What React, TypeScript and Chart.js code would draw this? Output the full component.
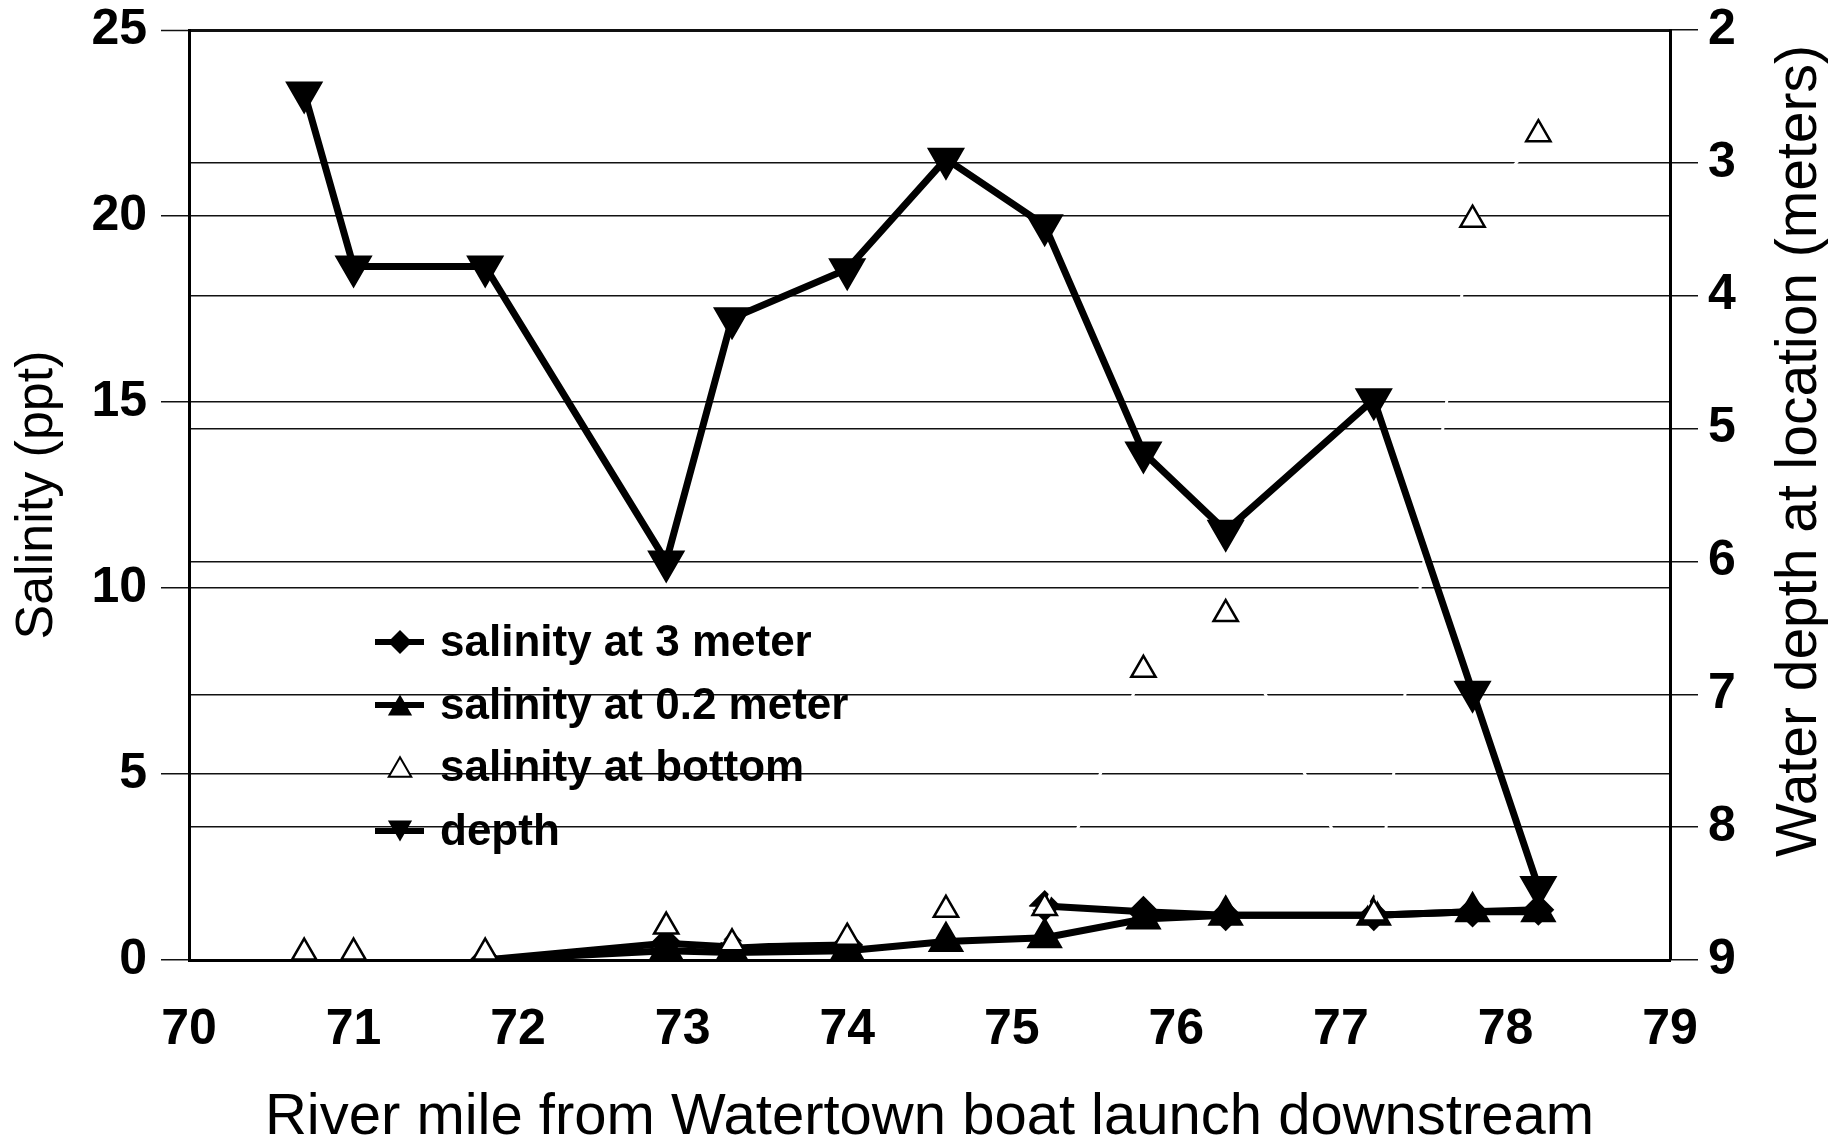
import React, { useEffect, useRef } from "react";
import { Chart, registerables } from "chart.js";

Chart.register(...registerables);

// ---- data ----
const riverMile = [70.7, 71.0, 71.8, 72.9, 73.3, 74.0, 74.6, 75.2, 75.8, 76.3, 77.2, 77.8, 78.2];
const salinity3m: (number | null)[] = [null, null, 0.0, 0.45, 0.35, 0.4, null, 1.45, 1.3, 1.2, 1.2, 1.3, 1.35];
const salinity02m: (number | null)[] = [null, null, 0.0, 0.25, 0.2, 0.25, 0.5, 0.6, 1.1, 1.2, 1.2, 1.3, 1.3];
const salinityBottom = [0.2, 0.2, 0.2, 0.9, 0.45, 0.6, 1.35, 1.4, 7.8, 9.3, 1.25, 19.9, 22.2];
const depth = [2.47, 3.78, 3.78, 6.0, 4.17, 3.8, 2.97, 3.47, 5.18, 5.77, 4.78, 6.98, 8.45];

const xTicks = [70, 71, 72, 73, 74, 75, 76, 77, 78, 79];
const salinityTicks = [0, 5, 10, 15, 20, 25];
const depthTicks = [2, 3, 4, 5, 6, 7, 8, 9];

const legendLabels = ["salinity at 3 meter", "salinity at 0.2 meter", "salinity at bottom", "depth"];
const xTitle = "River mile from Watertown boat launch downstream";
const yTitle = "Salinity (ppt)";
const y2Title = "Water depth at location (meters)";

const FONT = "'Liberation Sans', Arial, Helvetica, sans-serif";

function tri(ctx: any, x: number, y: number, r: number, down: boolean) {
  const s = down ? -1 : 1;
  const cy = y + s * r * 0.25;
  ctx.beginPath();
  ctx.moveTo(x, cy - s * r);
  ctx.lineTo(x + r * 0.866, cy + (s * r) / 2);
  ctx.lineTo(x - r * 0.866, cy + (s * r) / 2);
  ctx.closePath();
}

export default function App() {
  const ref = useRef<HTMLCanvasElement>(null);

  useEffect(() => {
    const canvas = ref.current as HTMLCanvasElement;
    const pts = (arr: (number | null)[]) => riverMile.map((x, i) => ({ x, y: arr[i] }));

    const annotations = {
      id: "annotations",
      afterDraw(chart: any) {
        const ctx = chart.ctx;
        ctx.save();
        // inline legend
        const ys = [634, 697, 759, 823];
        const lx0 = 367, lx1 = 416, mx = 392, tx = 432;
        ctx.font = `bold 44px ${FONT}`;
        ctx.textBaseline = "middle";
        ctx.textAlign = "left";
        ys.forEach((y, i) => {
          ctx.strokeStyle = "#000";
          ctx.fillStyle = "#000";
          if (i !== 2) {
            ctx.lineWidth = 6;
            ctx.beginPath();
            ctx.moveTo(lx0, y);
            ctx.lineTo(lx1, y);
            ctx.stroke();
          }
          if (i === 0) {
            const r = 12;
            ctx.beginPath();
            ctx.moveTo(mx, y - r);
            ctx.lineTo(mx + r, y);
            ctx.lineTo(mx, y + r);
            ctx.lineTo(mx - r, y);
            ctx.closePath();
            ctx.fill();
          } else if (i === 1) {
            tri(ctx, mx, y, 14, false);
            ctx.fill();
          } else if (i === 2) {
            tri(ctx, mx, y, 13, false);
            ctx.fillStyle = "#fff";
            ctx.fill();
            ctx.lineWidth = 2;
            ctx.stroke();
          } else {
            tri(ctx, mx, y, 14, true);
            ctx.fill();
          }
          ctx.fillStyle = "#000";
          ctx.fillText(legendLabels[i], tx, y + 2);
        });
        // right axis title, reading bottom-to-top
        ctx.font = `57px ${FONT}`;
        ctx.textAlign = "center";
        ctx.textBaseline = "middle";
        ctx.translate(1792, 443);
        ctx.rotate(-Math.PI / 2);
        ctx.fillText(y2Title, 0, 0);
        ctx.restore();
      },
    };

    const tickFont = { family: FONT, size: 50, weight: "bold" as const };

    const chart = new Chart(canvas, {
      type: "line",
      data: {
        datasets: [
          {
            label: legendLabels[0],
            data: pts(salinity3m) as any,
            yAxisID: "y",
            borderColor: "#000",
            borderWidth: 7,
            pointStyle: "rectRot",
            pointRadius: 11,
            pointBackgroundColor: "#000",
            pointBorderColor: "#000",
            spanGaps: false,
            order: 3,
          },
          {
            label: legendLabels[1],
            data: pts(salinity02m) as any,
            yAxisID: "y",
            borderColor: "#000",
            borderWidth: 7,
            pointStyle: "triangle",
            pointRadius: 14,
            pointBackgroundColor: "#000",
            pointBorderColor: "#000",
            order: 2,
          },
          {
            label: legendLabels[2],
            data: pts(salinityBottom) as any,
            yAxisID: "y",
            borderColor: "#fff",
            borderWidth: 3,
            pointStyle: "triangle",
            pointRadius: 14,
            pointBackgroundColor: "#fff",
            pointBorderColor: "#000",
            pointBorderWidth: 2.5,
            clip: false as any,
            order: 1,
          },
          {
            label: legendLabels[3],
            data: pts(depth) as any,
            yAxisID: "y2",
            borderColor: "#000",
            borderWidth: 7,
            pointStyle: "triangle",
            rotation: 180,
            pointRadius: 15,
            pointBackgroundColor: "#000",
            pointBorderColor: "#000",
            order: 0,
          },
        ],
      },
      options: {
        animation: false,
        responsive: false,
        layout: { padding: { top: 22, left: 0, right: 0, bottom: 0 } },
        elements: { line: { tension: 0 } },
        plugins: { legend: { display: false }, tooltip: { enabled: false } },
        scales: {
          x: {
            type: "linear",
            position: "bottom",
            min: 70,
            max: 79,
            afterBuildTicks: (s: any) => {
              s.ticks = xTicks.map((v) => ({ value: v }));
            },
            afterFit: (s: any) => {
              s.height = 177;
              s.paddingLeft = 0;
              s.paddingRight = 0;
            },
            grid: { display: false, drawTicks: false },
            border: { display: true, color: "#000", width: 3 },
            ticks: { color: "#000", font: tickFont, padding: 40, maxRotation: 0, autoSkip: false },
            title: {
              display: true,
              text: xTitle,
              color: "#000",
              font: { family: FONT, size: 58, weight: "normal" as const, lineHeight: 1 },
              padding: { top: 0, bottom: -10 },
            },
          },
          y: {
            type: "linear",
            position: "left",
            min: 0,
            max: 25,
            afterBuildTicks: (s: any) => {
              s.ticks = salinityTicks.map((v) => ({ value: v }));
            },
            afterFit: (s: any) => {
              s.width = 181;
              s.paddingTop = 0;
              s.paddingBottom = 0;
            },
            grid: {
              color: "#111",
              lineWidth: (c: any) => (c.tick && c.tick.value === 25 ? 3 : 1.5),
              tickLength: 28,
              tickColor: "#111",
              tickWidth: 1.5,
            },
            border: { display: true, color: "#000", width: 3 },
            ticks: { color: "#000", font: tickFont, padding: 14 },
            title: {
              display: true,
              text: yTitle,
              color: "#000",
              font: { family: FONT, size: 52, weight: "normal" as const, lineHeight: 1 },
              padding: { top: 4, bottom: 0 },
            },
          },
          y2: {
            type: "linear",
            position: "right",
            min: 2,
            max: 9,
            reverse: true,
            afterBuildTicks: (s: any) => {
              s.ticks = depthTicks.map((v) => ({ value: v }));
            },
            afterFit: (s: any) => {
              s.width = 170;
              s.paddingTop = 0;
              s.paddingBottom = 0;
            },
            grid: {
              color: "#111",
              lineWidth: 1.5,
              tickLength: 28,
              tickColor: "#111",
              tickWidth: 1.5,
            },
            border: { display: true, color: "#000", width: 3 },
            ticks: { color: "#000", font: tickFont, padding: 10 },
          },
        },
      },
      plugins: [annotations],
    });

    return () => chart.destroy();
  }, []);

  return <canvas ref={ref} width={1832} height={1129} style={{ display: "block" }} />;
}
